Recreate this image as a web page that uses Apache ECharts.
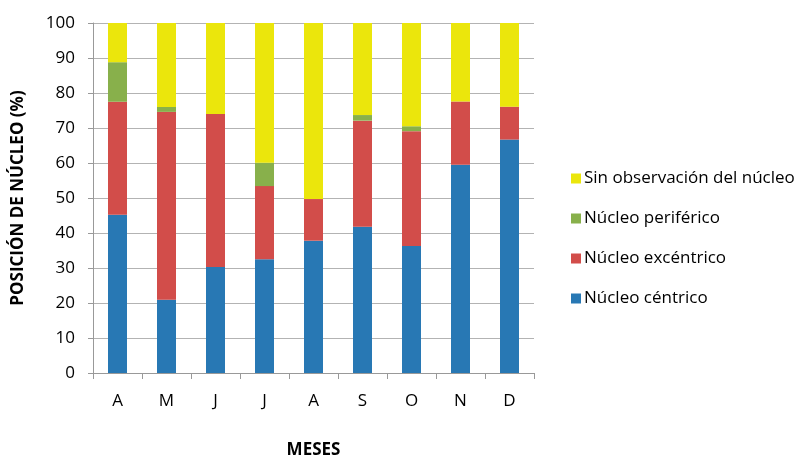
<!DOCTYPE html>
<html><head><meta charset="utf-8">
<script src="https://cdn.jsdelivr.net/npm/echarts@6/dist/echarts.min.js"></script>
<style>html,body{margin:0;padding:0;background:#fff}#c{width:798px;height:456px}</style>
</head><body><div id="c"></div>
<script>
const months = ['A','M','J','J','A','S','O','N','D'];
const centrico = [45.2, 20.9, 30.3, 32.5, 37.8, 41.8, 36.3, 59.5, 66.7];
const excentrico = [32.3, 53.7, 43.7, 20.9, 11.9, 30.3, 32.8, 18.1, 9.4];
const periferico = [11.3, 1.4, 0, 6.7, 0, 1.6, 1.4, 0, 0];
const sinObs = [11.2, 24.0, 26.0, 39.9, 50.3, 26.3, 29.5, 22.4, 23.9];
const yTicks = {min: 0, max: 100, interval: 10};

const font = 'Open Sans, Lato, sans-serif';
const chart = echarts.init(document.getElementById('c'));
function s(name, data, color){
  return {name, type:'bar', stack:'t', data, barWidth:19, itemStyle:{color}};
}
chart.setOption({
  animation:false,
  grid:{left:93, right:264, top:23, bottom:83, containLabel:false, outerBoundsMode:'none'},
  legend:{
    orient:'vertical', left:566, top:165, itemWidth:10, itemHeight:10, itemGap:23,
    icon:'rect',
    data:['Sin observación del núcleo','Núcleo periférico','Núcleo excéntrico','Núcleo céntrico'],
    textStyle:{fontFamily:font, fontSize:17, color:'#000', padding:[0,0,0,-2]}
  },
  xAxis:{
    type:'category', data:months,
    name:'MESES', nameLocation:'middle', nameGap:69,
    nameTextStyle:{fontFamily:font, fontSize:17, fontWeight:'bold', color:'#000'},
    axisLine:{lineStyle:{color:'#999'}},
    axisTick:{show:true, length:6, lineStyle:{color:'#999'}},
    axisLabel:{fontFamily:font, fontSize:17, color:'#000', margin:20}
  },
  yAxis:{
    type:'value', min:yTicks.min, max:yTicks.max, interval:yTicks.interval,
    name:'POSICIÓN DE NÚCLEO (%)', nameLocation:'middle', nameGap:66,
    nameTextStyle:{fontFamily:font, fontSize:17, fontWeight:'bold', color:'#000'},
    axisLine:{show:true, lineStyle:{color:'#999'}},
    axisTick:{show:true, length:5, lineStyle:{color:'#999'}},
    axisLabel:{fontFamily:font, fontSize:17, color:'#000', margin:18},
    splitLine:{lineStyle:{color:'#b3b3b3'}}
  },
  series:[
    s('Núcleo céntrico', centrico, '#2878b4'),
    s('Núcleo excéntrico', excentrico, '#d24d4a'),
    s('Núcleo periférico', periferico, '#88b04b'),
    s('Sin observación del núcleo', sinObs, '#ebe60c')
  ]
});
</script></body></html>
